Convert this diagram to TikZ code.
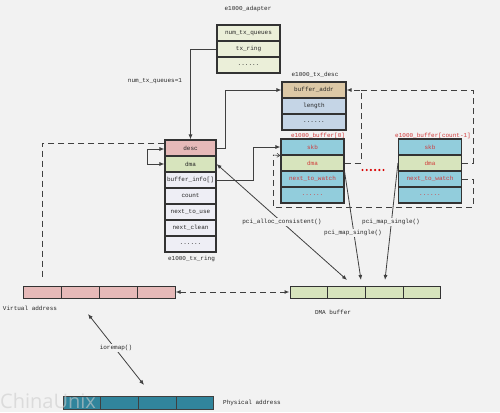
\documentclass[tikz,border=0pt]{standalone}
\usepackage{fontspec}
\newfontfamily\monof{Liberation Mono}
\newfontfamily\wmfont{Open Sans}
\usetikzlibrary{arrows.meta}
\definecolor{bg}{HTML}{F2F2F2}
\definecolor{bd}{HTML}{333333}
\definecolor{ln}{HTML}{404040}
\definecolor{adfill}{HTML}{EBEFD9}
\definecolor{pinkc}{HTML}{E6B9B8}
\definecolor{greenc}{HTML}{D7E4BD}
\definecolor{lavc}{HTML}{EEEEF5}
\definecolor{tanc}{HTML}{DCC8A6}
\definecolor{lbluec}{HTML}{C5D5E6}
\definecolor{tealc}{HTML}{92CDDC}
\definecolor{physc}{HTML}{31859C}
\definecolor{redt}{HTML}{D03A3A}
\tikzset{
  txt/.style={font=\monof\fontsize{6}{7}\selectfont, text=black!85, inner sep=0.5pt},
  cell/.style={txt, draw=bd, line width=1.1pt, inner sep=0pt, minimum height=16pt},
  adcell/.style={cell, fill=adfill, minimum width=63pt},
  rgcell/.style={cell, fill=lavc, minimum width=51pt},
  dscell/.style={cell, minimum width=64pt},
  bfcell/.style={cell, fill=tealc, minimum width=63pt, text=redt},
  strip/.style={draw=bd, line width=1pt, minimum height=12pt, minimum width=37.75pt, inner sep=0pt},
  conn/.style={draw=ln, line width=0.8pt},
  tip/.style={-{Latex[length=5pt,width=4pt]}},
  btip/.style={{Latex[length=5pt,width=4pt]}-{Latex[length=5pt,width=4pt]}},
  dsh/.style={draw=ln, line width=1pt, dash pattern=on 6pt off 4pt},
  lab/.style={txt, fill=bg, inner sep=1pt},
  redlab/.style={txt, text=redt}
}
\begin{document}
\begin{tikzpicture}[x=1pt,y=-1pt]
\useasboundingbox (0,0) rectangle (500,412);
\fill[bg] (0,0) rectangle (500,412);

% e1000_adapter
\node[txt] (adt) at (248,9) {e1000\_adapter};
\node[adcell] (ad1) at (248.5,33) {num\_tx\_queues};
\node[adcell] (ad2) at (248.5,49) {tx\_ring};
\node[adcell] (ad3) at (248.5,65) {......};

% e1000_tx_ring
\node[rgcell, fill=pinkc] (desc) at (190.5,148) {desc};
\node[rgcell, fill=greenc] (rdma) at (190.5,164) {dma};
\node[rgcell] (binfo) at (190.5,180) {buffer\_info[]};
\node[rgcell] (cnt) at (190.5,196) {count};
\node[rgcell] (ntu) at (190.5,212) {next\_to\_use};
\node[rgcell] (ncl) at (190.5,228) {next\_clean};
\node[rgcell] (rdot) at (190.5,244) {......};
\node[txt] (rgt) at (191.5,259) {e1000\_tx\_ring};

% e1000_tx_desc
\node[txt] (dst) at (315,75) {e1000\_tx\_desc};
\node[dscell, fill=tanc] (baddr) at (314,90) {buffer\_addr};
\node[dscell, fill=lbluec] (blen) at (314,106) {length};
\node[dscell, fill=lbluec] (bdot) at (314,122) {......};

% e1000_buffer[0]
\node[redlab] (b0t) at (318,136) {e1000\_buffer[0]};
\node[bfcell] (b0skb) at (312.5,147) {skb};
\node[bfcell, fill=greenc] (b0dma) at (312.5,163) {dma};
\node[bfcell] (b0ntw) at (312.5,179) {next\_to\_watch};
\node[bfcell] (b0dot) at (312.5,195) {......};

% e1000_buffer[count-1]
\node[redlab] (bct) at (433,136) {e1000\_buffer[count-1]};
\node[bfcell] (bcskb) at (430,147) {skb};
\node[bfcell, fill=greenc] (bcdma) at (430,163) {dma};
\node[bfcell] (bcntw) at (430,179) {next\_to\_watch};
\node[bfcell] (bcdot) at (430,195) {......};

% red ellipsis between the buffers
\foreach \k in {0,...,5}
  \fill[red!85!black] (362.5+4.2*\k,170) circle (1.2pt);

% Virtual address strip
\foreach \i/\x in {1/42,2/80,3/118,4/156}
  \node[strip, fill=pinkc, minimum width=38pt] (v\i) at (\x,292) {};
\node[txt] (vlab) at (30,308) {Virtual address};

% DMA buffer strip
\foreach \i/\x in {1/308.9,2/346.6,3/384.4,4/422.1}
  \node[strip, fill=greenc] (d\i) at (\x,292) {};
\node[txt] (dlab) at (333,312) {DMA buffer};

% Physical strip
\foreach \i/\x in {1/81.9,2/119.6,3/157.4,4/195.1}
  \node[strip, fill=physc, draw=black!75, minimum height=13pt] (p\i) at (\x,402.5) {};
\node[txt] (plab) at (252,403) {Physical address};

% coordinates
\coordinate (c1) at (361,90);
\coordinate (c2) at (473,90);
\coordinate (c3) at (473,207);
\coordinate (c4) at (273,155);
\coordinate (ms1) at (361,280);
\coordinate (ms2) at (385,280);
\coordinate (pac) at (347,280);
\coordinate (io1) at (88,314);
\coordinate (io2) at (144,385);

% connectors
\draw[conn, tip] (ad2.west) -| (desc.north);
\node[txt] (nq) at (155,81) {num\_tx\_queues=1};
\draw[conn, tip] (desc.east) -- ++(9,0) |- (baddr.west);
\draw[conn, btip] ([yshift=-1pt]desc.west) -- ++(-17,0) |- (rdma.west);
\draw[dsh] ([yshift=5pt]desc.west) -| ([yshift=6pt]v1.north);
\draw[conn, tip] (binfo.east) -- ++(37,0) |- (b0skb.west);

\draw[dsh, tip] (b0dma.east) -| (c1) -- (baddr.east);
\draw[dsh] (bcdma.east) -| (c2) -- (c1);
\draw[dsh] (bcntw.east) -| (c3) -| (c4);
\draw[draw=ln, line width=0.6pt, -{Straight Barb[length=3pt,width=4pt]}] (c4) -- (b0skb.south west);

\draw[dsh, btip] (v4.east) -- (d1.west);

\draw[conn, btip] (rdma.east) -- (pac);
\node[lab] (pacl) at (282,222) {pci\_alloc\_consistent()};
\draw[conn, tip] (b0dma.south east) -- (ms1);
\node[lab] (ms1l) at (353,233) {pci\_map\_single()};
\draw[conn, tip] (bcdma.west) -- (ms2);
\node[lab] (ms2l) at (391,222) {pci\_map\_single()};

\draw[conn, btip] (io1) -- (io2);
\node[lab] (iol) at (116,348) {ioremap()};

% watermark
\node[font=\wmfont\fontsize{20}{22}\selectfont, text=gray!40, opacity=0.6, inner sep=0pt, anchor=west] (wm) at (0,401) {ChinaUnix};
\end{tikzpicture}
\end{document}
